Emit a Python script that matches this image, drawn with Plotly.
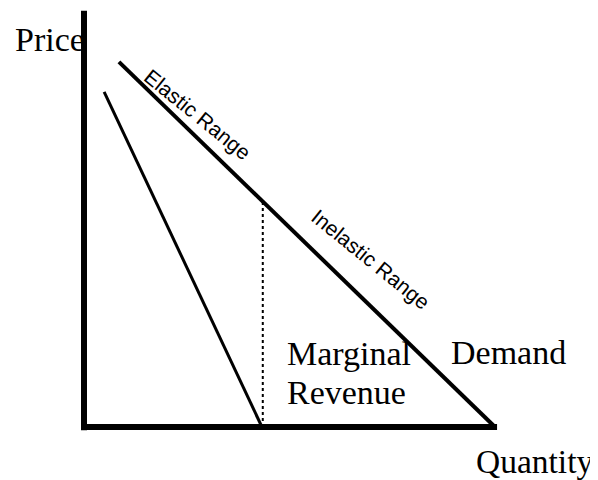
import plotly.graph_objects as go

# demand / marginal revenue (price and quantity units 0..10)
demand_q = [0.85, 10.0]
demand_p = [9.15, 0.0]
mr_q = [0.49, 4.33]
mr_p = [8.4, 0.0]
split_q = [4.35, 4.35]          # unit-elastic point
split_p = [0.0, 5.65]
yaxis_q = [0.0, 0.0]
yaxis_p = [-0.08, 10.43]
xaxis_q = [-0.05, 10.05]
xaxis_p = [0.0, 0.0]

serif = "Liberation Serif, Times New Roman, serif"
sans = "Liberation Sans, Arial, sans-serif"

fig = go.Figure()

# axes drawn as thick lines
fig.add_trace(go.Scatter(x=yaxis_q, y=yaxis_p, mode="lines", line=dict(color="black", width=6)))
fig.add_trace(go.Scatter(x=xaxis_q, y=xaxis_p, mode="lines", line=dict(color="black", width=6)))

fig.add_trace(go.Scatter(x=demand_q, y=demand_p, mode="lines", line=dict(color="black", width=4)))
fig.add_trace(go.Scatter(x=mr_q, y=mr_p, mode="lines", line=dict(color="black", width=3)))
fig.add_trace(go.Scatter(x=split_q, y=split_p, mode="lines", line=dict(color="black", width=2, dash="dot")))

labels = [
    # text, q, p, font, size, angle, xanchor
    ("Price", -1.72, 9.72, serif, 34, 0, "left"),
    ("Quantity", 9.5, -0.86, serif, 33.5, 0, "left"),
    ("Marginal", 4.9, 1.85, serif, 34, 0, "left"),
    ("Revenue", 4.9, 0.87, serif, 34, 0, "left"),
    ("Demand", 8.88, 1.87, serif, 34, 0, "left"),
    ("Elastic Range", 2.77, 7.84, sans, 21, 39, "center"),
    ("Inelastic Range", 6.98, 4.19, sans, 21, 39, "center"),
]
for text, q, p, fam, size, ang, xa in labels:
    fig.add_annotation(x=q, y=p, text=text, showarrow=False, textangle=ang,
                       xanchor=xa, yanchor="middle",
                       font=dict(family=fam, size=size, color="black"))

# page body adds an 8px offset: figure shrunk by 8px and ranges shifted to match
fig.update_layout(
    width=590, height=472,
    margin=dict(l=0, r=0, t=0, b=0),
    paper_bgcolor="white", plot_bgcolor="white",
    showlegend=False,
    xaxis=dict(range=[-1.849, 12.506], visible=False, fixedrange=True),
    yaxis=dict(range=[-1.328, 10.50], visible=False, fixedrange=True),
)

fig.write_html("out.html")
